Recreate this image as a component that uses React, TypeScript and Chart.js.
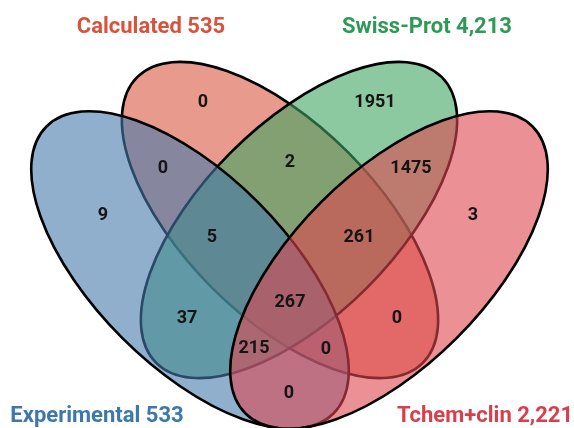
import { useEffect, useRef } from 'react';
import { Chart, registerables } from 'chart.js';

Chart.register(...registerables);

// ---- data ----
const setNames = ['Experimental', 'Calculated', 'Swiss-Prot', 'Tchem+clin'];
const setTotals = [533, 535, 4213, 2221];
const regionNames = [
  'Experimental', 'Calculated', 'Swiss-Prot', 'Tchem+clin',
  'Exp∩Calc', 'Calc∩Swiss', 'Swiss∩Tchem', 'Exp∩Swiss', 'Calc∩Tchem', 'Exp∩Tchem',
  'Exp∩Calc∩Swiss', 'Calc∩Swiss∩Tchem', 'Exp∩Swiss∩Tchem', 'Exp∩Calc∩Tchem',
  'All four',
];
const regionCounts = [9, 0, 1951, 3, 0, 2, 1475, 37, 0, 0, 5, 261, 215, 0, 267];

// ---- layout / style ----
const regionAnchors: [number, number][] = [
  [103, 213], [203, 100], [375, 100], [473, 213],
  [163, 166], [290, 160], [411, 166], [187, 316], [397, 316], [289, 391],
  [212, 235], [359, 235], [254, 346], [326, 347],
  [290, 300],
];
const ellipseShapes = [
  { cx: 190, cy: 270, a: 203, b: 96, rot: 45 },
  { cx: 280, cy: 220, a: 202, b: 96, rot: 45 },
  { cx: 299, cy: 220, a: 202, b: 96, rot: -45 },
  { cx: 389, cy: 270, a: 203, b: 96, rot: -45 },
];
const fillColors = [
  'rgba(69,122,172,0.6)',
  'rgba(217,88,63,0.6)',
  'rgba(63,163,97,0.6)',
  'rgba(222,72,80,0.6)',
];
const titleColors = ['#3a78ad', '#d8533c', '#2f9a56', '#d93f4a'];
const titleAnchors: [number, number][] = [[97, 414], [151, 25], [427, 25], [485, 414]];
const drawOrder = [1, 2, 0, 3];

const vennPlugin = {
  id: 'venn',
  beforeDatasetsDraw(chart: any) {
    const { ctx, scales } = chart;
    const xs = scales.x;
    const ys = scales.y;
    const kx = xs.getPixelForValue(1) - xs.getPixelForValue(0);
    const ky = ys.getPixelForValue(1) - ys.getPixelForValue(0);
    drawOrder.forEach((i) => {
      const e = ellipseShapes[i];
      ctx.save();
      ctx.translate(xs.getPixelForValue(e.cx), ys.getPixelForValue(e.cy));
      ctx.scale(kx, ky);
      ctx.rotate((e.rot * Math.PI) / 180);
      ctx.beginPath();
      ctx.ellipse(0, 0, e.a, e.b, 0, 0, Math.PI * 2);
      ctx.restore();
      ctx.save();
      ctx.fillStyle = fillColors[i];
      ctx.fill();
      ctx.lineWidth = 2.6;
      ctx.strokeStyle = '#000';
      ctx.stroke();
      ctx.restore();
    });
  },
  afterDatasetsDraw(chart: any) {
    const { ctx, scales } = chart;
    const meta = chart.getDatasetMeta(0);
    ctx.save();
    ctx.textAlign = 'center';
    ctx.textBaseline = 'alphabetic';
    ctx.fillStyle = '#151515';
    ctx.font = 'bold 18px Roboto';
    meta.data.forEach((pt: any, i: number) => {
      ctx.fillText(String(regionCounts[i]), pt.x, pt.y + 6.5);
    });
    ctx.font = 'bold 22px Roboto';
    setNames.forEach((name, i) => {
      ctx.fillStyle = titleColors[i];
      const [tx, ty] = titleAnchors[i];
      ctx.fillText(
        `${name} ${setTotals[i].toLocaleString('en-US')}`,
        scales.x.getPixelForValue(tx),
        scales.y.getPixelForValue(ty) + 8
      );
    });
    ctx.restore();
  },
};

export default function App() {
  const ref = useRef<HTMLCanvasElement | null>(null);
  useEffect(() => {
    document.body.style.margin = '0';
    const canvas = ref.current;
    if (!canvas) return;
    const chart = new Chart(canvas, {
      type: 'scatter',
      data: {
        datasets: [
          {
            label: 'Regions',
            data: regionAnchors.map(([x, y], i) => ({ x, y, name: regionNames[i] } as any)),
            pointRadius: 0,
            pointHoverRadius: 0,
          },
        ],
      },
      options: {
        animation: false,
        responsive: false,
        devicePixelRatio: 1,
        layout: { padding: 0 },
        plugins: { legend: { display: false }, tooltip: { enabled: false }, title: { display: false } },
        events: [],
        scales: {
          x: { type: 'linear', min: 0, max: 574, display: false },
          y: { type: 'linear', min: 0, max: 428, reverse: true, display: false },
        },
      },
      plugins: [vennPlugin],
    });
    return () => chart.destroy();
  }, []);
  return (
    <div style={{ width: 574, height: 428, background: '#fff' }}>
      <canvas ref={ref} width={574} height={428} />
    </div>
  );
}
